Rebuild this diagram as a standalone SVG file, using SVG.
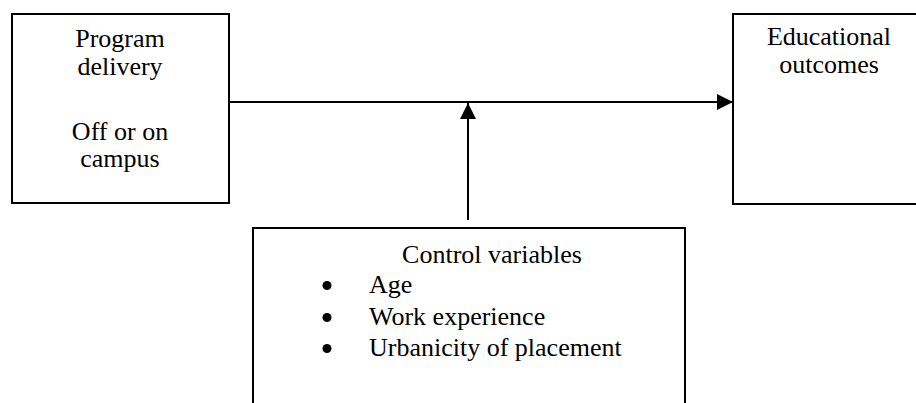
<svg xmlns="http://www.w3.org/2000/svg" width="916" height="403" viewBox="0 0 916 403">
<style>
.box{fill:#fff;stroke:#000;stroke-width:2}
.t{font-family:'Liberation Serif','Times New Roman',serif;font-size:26px;fill:#000}
.c{text-anchor:middle}
.ln{stroke:#000;stroke-width:2;fill:none}
.b{fill:#000}
</style>
<defs>
<marker id="ah" markerWidth="16" markerHeight="16" viewBox="0 0 16 16" refX="16" refY="8" orient="auto" markerUnits="userSpaceOnUse">
<path d="M0,0 L16,8 L0,16 Z" fill="#000"/>
</marker>
</defs>
<rect width="916" height="403" fill="#fff"/>
<g id="program-delivery">
<rect class="box" x="12" y="14" width="217" height="189"/>
<text class="t c" x="120" y="47">Program</text>
<text class="t c" x="120" y="75">delivery</text>
<text class="t c" x="120" y="140">Off or on</text>
<text class="t c" x="120" y="167">campus</text>
</g>
<g id="educational-outcomes">
<rect class="box" x="733" y="14" width="200" height="190"/>
<text class="t c" x="829" y="45">Educational</text>
<text class="t c" x="829" y="73">outcomes</text>
</g>
<g id="control-variables">
<rect class="box" x="253" y="228" width="432" height="200"/>
<text class="t c" x="492" y="263">Control variables</text>
<circle class="b" cx="327" cy="285.5" r="4.5"/>
<text class="t" x="369" y="293">Age</text>
<circle class="b" cx="327" cy="317.5" r="4.5"/>
<text class="t" x="369" y="325">Work experience</text>
<circle class="b" cx="327" cy="348.5" r="4.5"/>
<text class="t" x="369" y="356">Urbanicity of placement</text>
</g>
<g id="connectors">
<line class="ln" x1="229" y1="102" x2="733" y2="102" marker-end="url(#ah)"/>
<line class="ln" x1="468" y1="220" x2="468" y2="103" marker-end="url(#ah)"/>
</g>
</svg>
